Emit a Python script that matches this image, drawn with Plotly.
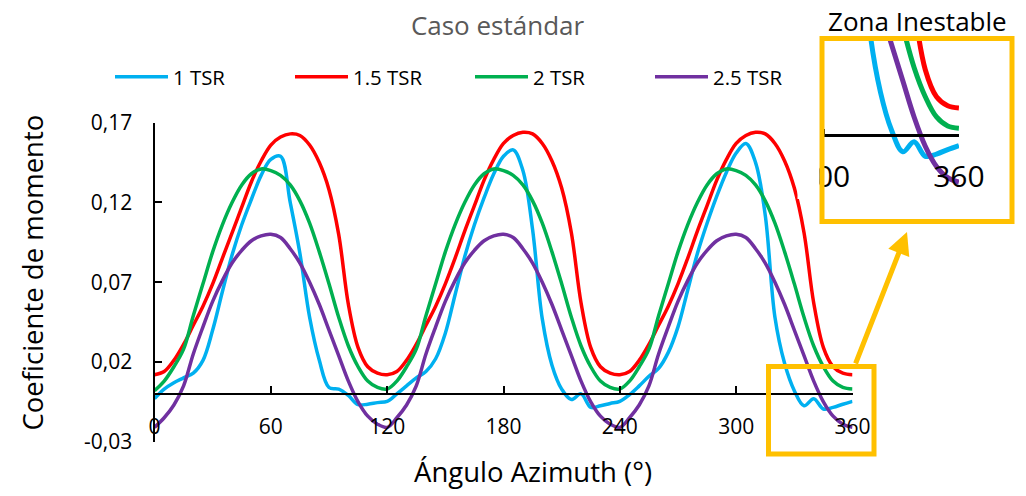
import plotly.graph_objects as go

W, H = 1026, 496

# ---------------- data ----------------
angle = list(range(0, 361, 5))

cm_1_tsr = [
    -0.003, 0.003, 0.007, 0.010, 0.013, 0.021, 0.040, 0.064, 0.087, 0.106, 0.122, 0.137,
    0.147, 0.149, 0.120, 0.088, 0.048, 0.021, 0.004, 0.003, -0.001, -0.0068, -0.0065, -0.0055,
    -0.0047, 0.000, 0.005, 0.010, 0.014, 0.022, 0.038, 0.062, 0.086, 0.106, 0.123, 0.138,
    0.149, 0.153, 0.140, 0.103, 0.047, 0.018, 0.003, -0.0036, 0.000, -0.0085, -0.0075, -0.006,
    -0.0047, -0.0005, 0.005, 0.011, 0.016, 0.026, 0.042, 0.065, 0.088, 0.107, 0.124, 0.139,
    0.151, 0.157, 0.145, 0.112, 0.048, 0.019, 0.002, -0.0075, -0.003, -0.0095, -0.0085, -0.0065,
    -0.0047,
]
cm_15_tsr = [
    0.012, 0.014, 0.021, 0.031, 0.043, 0.055, 0.069, 0.085, 0.101, 0.117, 0.133, 0.146,
    0.156, 0.161, 0.163, 0.162, 0.156, 0.145, 0.128, 0.100, 0.056, 0.029, 0.017, 0.013,
    0.012, 0.014, 0.021, 0.031, 0.043, 0.055, 0.069, 0.085, 0.102, 0.118, 0.134, 0.147,
    0.157, 0.162, 0.164, 0.163, 0.157, 0.146, 0.129, 0.101, 0.057, 0.029, 0.017, 0.013,
    0.012, 0.014, 0.021, 0.031, 0.043, 0.055, 0.069, 0.085, 0.102, 0.118, 0.134, 0.147,
    0.157, 0.162, 0.164, 0.163, 0.157, 0.146, 0.129, 0.101, 0.057, 0.029, 0.017, 0.013,
    0.012,
]
cm_2_tsr = [
    0.002, 0.008, 0.017, 0.028, 0.049, 0.069, 0.089, 0.106, 0.120, 0.131, 0.138, 0.141,
    0.140, 0.137, 0.131, 0.121, 0.107, 0.089, 0.069, 0.048, 0.030, 0.017, 0.008, 0.004,
    0.003, 0.008, 0.017, 0.028, 0.049, 0.069, 0.089, 0.106, 0.120, 0.131, 0.138, 0.141,
    0.140, 0.137, 0.131, 0.121, 0.107, 0.089, 0.069, 0.048, 0.030, 0.017, 0.008, 0.004,
    0.003, 0.008, 0.017, 0.028, 0.049, 0.069, 0.089, 0.106, 0.120, 0.131, 0.138, 0.141,
    0.140, 0.137, 0.131, 0.121, 0.107, 0.089, 0.069, 0.048, 0.030, 0.017, 0.008, 0.004,
    0.003,
]
cm_25_tsr = [
    -0.021, -0.015, -0.007, 0.005, 0.025, 0.042, 0.058, 0.071, 0.082, 0.090, 0.096, 0.099,
    0.100, 0.098, 0.091, 0.082, 0.070, 0.056, 0.040, 0.024, 0.008, -0.005, -0.014, -0.019,
    -0.021, -0.015, -0.007, 0.005, 0.025, 0.042, 0.058, 0.071, 0.082, 0.090, 0.096, 0.099,
    0.100, 0.098, 0.091, 0.082, 0.070, 0.056, 0.040, 0.024, 0.008, -0.005, -0.014, -0.019,
    -0.021, -0.015, -0.007, 0.005, 0.025, 0.042, 0.058, 0.071, 0.082, 0.090, 0.096, 0.099,
    0.100, 0.098, 0.091, 0.082, 0.070, 0.056, 0.040, 0.024, 0.008, -0.005, -0.014, -0.019,
    -0.021,
]

series_names = ["1 TSR", "1.5 TSR", "2 TSR", "2.5 TSR"]
series_values = [cm_1_tsr, cm_15_tsr, cm_2_tsr, cm_25_tsr]
series_colors = ["#00B0F0", "#FF0000", "#00B050", "#7030A0"]

x_tickvals = [0, 60, 120, 180, 240, 300, 360]
y_tickvals = [-0.03, 0.02, 0.07, 0.12, 0.17]
y_ticktext = ["-0,03", "0,02", "0,07", "0,12", "0,17"]
inset_tickvals = [300, 360]

title_text = "Caso estándar"
x_title = "Ángulo Azimuth (°)"
y_title = "Coeficiente de momento"
inset_title = "Zona Inestable"

# ---------------- layout helpers ----------------
FONT = "Open Sans"
ORANGE = "#FFC000"


def px_x(p):
    return p / W


def px_y(p):
    return 1 - p / H


y_range = [-0.03, 0.17]
x_range = [0, 360]
xd = [px_x(154.5), px_x(852.5)]
yd = [px_y(441.7), px_y(122.7)]
zero_pos = yd[0] + (0 - y_range[0]) / (y_range[1] - y_range[0]) * (yd[1] - yd[0])

iy_range = [-0.0387, 0.0431]
ix_range = [298.9, 360]
ixd = [px_x(822), px_x(958.9)]
iyd = [px_y(222), px_y(38)]
izero = iyd[0] + (0 - iy_range[0]) / (iy_range[1] - iy_range[0]) * (iyd[1] - iyd[0])

fig = go.Figure()

for name, vals, col in zip(series_names, series_values, series_colors):
    fig.add_trace(go.Scatter(
        x=angle, y=vals, name=name, mode="lines",
        line=dict(color=col, width=3.5, shape="spline", smoothing=1.0),
        xaxis="x", yaxis="y", hoverinfo="skip",
    ))

for name, vals, col in zip(series_names, series_values, series_colors):
    fig.add_trace(go.Scatter(
        x=angle, y=vals, name=name, mode="lines", showlegend=False,
        line=dict(color=col, width=5, shape="spline", smoothing=1.0),
        xaxis="x2", yaxis="y2", hoverinfo="skip",
    ))

fig.update_layout(
    width=W, height=H,
    margin=dict(l=0, r=0, t=0, b=0, autoexpand=False),
    paper_bgcolor="white", plot_bgcolor="rgba(0,0,0,0)",
    font=dict(family=FONT, color="black"),
    title=dict(text=title_text, x=px_x(497.5), y=px_y(26), xanchor="center", yanchor="middle",
               xref="paper", yref="container",
               font=dict(family=FONT, size=26, color="#595959")),
    showlegend=True,
    legend=dict(orientation="h", x=px_x(110), y=px_y(77), xanchor="left", yanchor="middle",
                font=dict(family=FONT, size=20.4, color="black"),
                itemwidth=53, entrywidth=112, bgcolor="rgba(0,0,0,0)",
                traceorder="normal"),
    xaxis=dict(
        domain=xd, range=x_range, anchor="free", position=zero_pos, automargin=False,
        showline=True, linecolor="black", linewidth=2,
        ticks="inside", ticklen=7, tickwidth=2, tickcolor="black",
        tickvals=x_tickvals, tickfont=dict(family=FONT, size=21, color="black"),
        ticklabelstandoff=14,
        showgrid=False, zeroline=False,
    ),
    yaxis=dict(
        domain=yd, range=y_range, anchor="x", automargin=False,
        showline=True, linecolor="black", linewidth=2,
        ticks="inside", ticklen=7, tickwidth=2, tickcolor="black",
        tickvals=y_tickvals, ticktext=y_ticktext,
        tickfont=dict(family=FONT, size=21, color="black"),
        ticklabelstandoff=16,
        showgrid=False, zeroline=False,
    ),
    xaxis2=dict(
        domain=ixd, range=ix_range, anchor="free", position=izero, automargin=False,
        showline=True, linecolor="black", linewidth=3,
        ticks="inside", ticklen=5, tickwidth=2, tickcolor="black",
        tickvals=inset_tickvals, tickfont=dict(family=FONT, size=30, color="black"),
        ticklabelstandoff=14,
        showgrid=False, zeroline=False,
    ),
    yaxis2=dict(domain=iyd, range=iy_range, anchor="x2", visible=False, automargin=False,
                showgrid=False, zeroline=False),
)

# axis titles
fig.add_annotation(x=px_x(532.5), y=px_y(471), xref="paper", yref="paper",
                   text=x_title, showarrow=False, xanchor="center", yanchor="middle",
                   font=dict(family=FONT, size=27.5, color="black"))
fig.add_annotation(x=px_x(32), y=px_y(272.5), xref="paper", yref="paper",
                   text=y_title, showarrow=False, textangle=-90,
                   xanchor="center", yanchor="middle",
                   font=dict(family=FONT, size=27.5, color="black"))

# cover the clipped part of the inset's first label (as in the cropped magnifier image)
fig.add_shape(type="rect", xref="paper", yref="paper",
              x0=px_x(797.5), x1=px_x(819.5), y0=px_y(199), y1=px_y(166),
              fillcolor="white", line=dict(width=0), layer="above")
# highlight box on main chart
fig.add_shape(type="rect", xref="paper", yref="paper",
              x0=px_x(768.5), x1=px_x(874), y0=px_y(454), y1=px_y(366.5),
              line=dict(color=ORANGE, width=5), layer="above")
# inset frame
fig.add_shape(type="rect", xref="paper", yref="paper",
              x0=px_x(822), x1=px_x(1012), y0=px_y(221.5), y1=px_y(38.5),
              line=dict(color=ORANGE, width=5), layer="above")

fig.add_annotation(x=px_x(907), y=px_y(232), xref="paper", yref="paper",
                   ax=-52, ay=133, text="", showarrow=True,
                   arrowhead=2, arrowsize=0.9, arrowwidth=5, arrowcolor=ORANGE)
fig.add_annotation(x=px_x(917), y=px_y(21), xref="paper", yref="paper",
                   text=inset_title, showarrow=False, xanchor="center", yanchor="middle",
                   font=dict(family=FONT, size=26, color="black"))

fig.write_html("out.html")
